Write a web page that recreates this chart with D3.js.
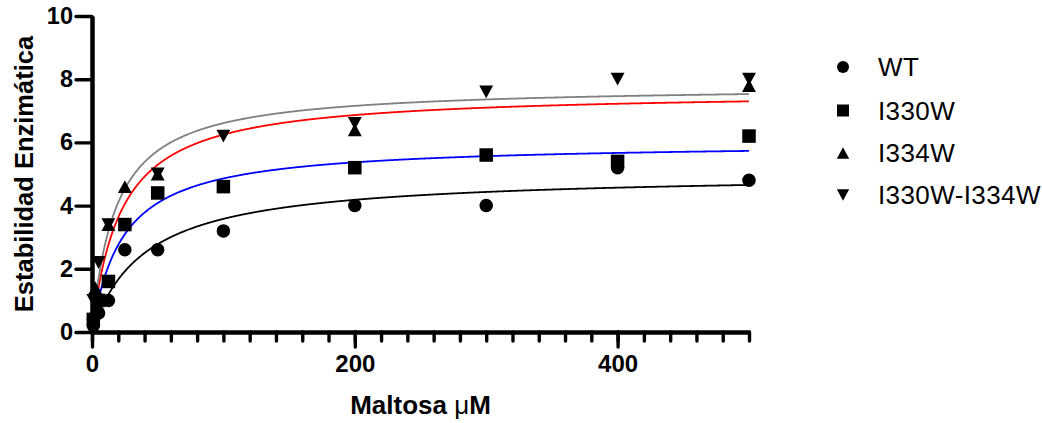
<!DOCTYPE html>
<html>
<head>
<meta charset="utf-8">
<script src="https://cdn.jsdelivr.net/npm/d3@7"></script>
<style>
  body { margin: 0; background: #fff; }
  svg { display: block; font-family: Arial, "Liberation Sans", sans-serif; }
</style>
</head>
<body>
<div id="chart"></div>
<script>
// Maltose concentrations (uM) measured
const xValues = [1, 2.5, 5, 12.5, 25, 50, 100, 200, 300, 400, 500];

// Enzyme stability per mutant (null = no point)
const wt        = [0.2, null, 0.6, 1.0, 2.6, 2.6, 3.2, 4.0, 4.0, 5.2, 4.8];
const i330w     = [0.4, null, 1.0, 1.6, 3.4, 4.4, 4.6, 5.2, 5.6, 5.4, 6.2];
const i334w     = [0.6, 1.4, null, 3.4, 4.6, 5.0, null, 6.4, null, null, 7.8];
const i330wI334w = [1.0, null, 2.2, 3.4, null, 5.0, 6.2, 6.6, 7.6, 8.0, 8.0];

const seriesNames = ['WT', 'I330W', 'I334W', 'I330W-I334W'];
const seriesValues = [wt, i330w, i334w, i330wI334w];
const seriesSymbols = ['circle', 'square', 'triangleUp', 'triangleDown'];
const curveColors = ['#000000', '#0000ff', '#ff0000', '#808080'];

// Michaelis-Menten fit parameters
const fitVmax = [5.03, 6.0, 7.62, 7.8];
const fitKm = [40.5, 23.5, 22, 18];

const xMajorTicks = [0, 200, 400];
const xMinorTicks = d3.range(0, 501, 20);
const yTicks = [0, 2, 4, 6, 8, 10];

const width = 1042, height = 423;
const svg = d3.select('#chart').append('svg')
  .attr('width', width)
  .attr('height', height);

const x = d3.scaleLinear().domain([0, 500]).range([92, 749]);
const y = d3.scaleLinear().domain([0, 10]).range([332, 16]);

// fitted curves
const curveX = d3.range(0, 500.5, 0.5);
const line = d3.line().x(d => x(d[0])).y(d => y(d[1]));
seriesNames.forEach((name, i) => {
  const pts = curveX.map(c => [c, fitVmax[i] * c / (fitKm[i] + c)]);
  svg.append('path')
    .attr('d', line(pts))
    .attr('fill', 'none')
    .attr('stroke', curveColors[i])
    .attr('stroke-width', 1.8);
});

// marker drawing
function drawSymbol(g, type, cx, cy, s) {
  const h = s / 2;
  if (type === 'circle') {
    g.append('circle').attr('cx', cx).attr('cy', cy).attr('r', h);
  } else if (type === 'square') {
    g.append('rect').attr('x', cx - h).attr('y', cy - h).attr('width', s).attr('height', s);
  } else if (type === 'triangleUp') {
    g.append('path').attr('d', `M${cx - h * 1.03},${cy + h * 0.95}L${cx + h * 1.03},${cy + h * 0.95}L${cx},${cy - h * 0.95}Z`);
  } else {
    g.append('path').attr('d', `M${cx - h * 1.03},${cy - h * 0.95}L${cx + h * 1.03},${cy - h * 0.95}L${cx},${cy + h * 0.95}Z`);
  }
}

const marks = svg.append('g').attr('fill', '#000');
seriesValues.forEach((vals, i) => {
  vals.forEach((v, j) => {
    if (v === null) return;
    drawSymbol(marks, seriesSymbols[i], x(xValues[j]), y(v), 13.5);
  });
});

// axes
function styleAxis(g) {
  g.select('.domain').attr('stroke-width', 4.5);
  g.selectAll('.tick line').attr('stroke-width', 3.4).attr('stroke-linecap', 'round');
  g.selectAll('text').attr('font-weight', 'bold').attr('fill', '#000');
}

svg.append('g')
  .attr('transform', `translate(0,${y(0)})`)
  .call(d3.axisBottom(x).tickValues(xMinorTicks).tickSize(9).tickSizeOuter(0).tickFormat(''))
  .call(styleAxis);

svg.append('g')
  .attr('transform', `translate(0,${y(0)})`)
  .call(d3.axisBottom(x).tickValues(xMajorTicks).tickSize(15).tickSizeOuter(0).tickPadding(8))
  .call(styleAxis)
  .call(g => g.select('.domain').remove())
  .call(g => g.selectAll('text').attr('font-size', 24).attr('font-family', 'Arial, "Liberation Sans", sans-serif'));

svg.append('g')
  .attr('transform', `translate(${x(0)},0)`)
  .call(d3.axisLeft(y).tickValues(yTicks).tickSize(16).tickSizeOuter(0).tickPadding(3))
  .call(styleAxis)
  .call(g => g.selectAll('text').attr('font-size', 23.5).attr('font-family', 'Arial, "Liberation Sans", sans-serif'));

// axis titles
const xt = svg.append('text')
  .attr('x', (x(0) + x(500)) / 2)
  .attr('y', 414)
  .attr('text-anchor', 'middle')
  .attr('font-size', 26)
  .attr('font-weight', 'bold');
xt.append('tspan').text('Maltosa ');
xt.append('tspan').attr('font-weight', 'normal').text('\u03bc');
xt.append('tspan').text('M');

svg.append('text')
  .attr('transform', 'translate(33,174) rotate(-90)')
  .attr('text-anchor', 'middle')
  .attr('font-size', 25.5)
  .attr('font-weight', 'bold')
  .text('Estabilidad Enzimática');

// legend
const legendY = [67, 110.5, 153, 195];
const legend = svg.append('g');
seriesNames.forEach((name, i) => {
  const lg = legend.append('g').attr('fill', '#000');
  drawSymbol(lg, seriesSymbols[i], 843, legendY[i], 12);
  lg.append('text')
    .attr('x', 878)
    .attr('y', legendY[i] + 9)
    .attr('font-size', 26)
    .attr('letter-spacing', 0.4)
    .text(name);
});
</script>
</body>
</html>
